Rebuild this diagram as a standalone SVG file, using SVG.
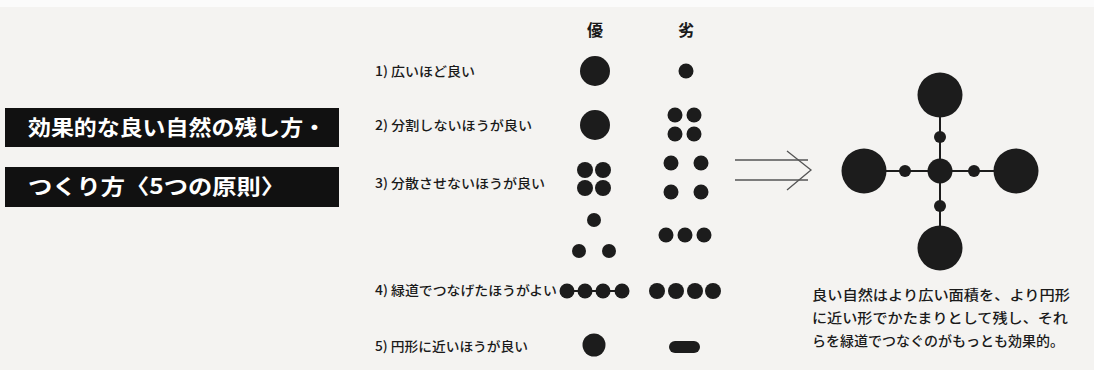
<svg xmlns="http://www.w3.org/2000/svg" width="1094" height="370" viewBox="0 0 1094 370">
<style>
.title{font-family:"Noto Sans CJK JP","Noto Sans",sans-serif;font-size:21px;font-weight:bold;fill:#ffffff}
.lbl{font-family:"Noto Sans CJK JP","Noto Sans",sans-serif;font-size:13px;font-weight:500;fill:#1a1a1a}
.hdr{font-family:"Noto Sans CJK JP",sans-serif;font-size:16px;font-weight:bold;fill:#1a1a1a}
.desc{font-family:"Noto Sans CJK JP","Noto Sans",sans-serif;font-size:13.5px;font-weight:500;fill:#1a1a1a}
.dot{fill:#1c1c1c}
.link{stroke:#1c1c1c;stroke-width:2;fill:none}
.arrow{stroke:#555;stroke-width:1.3;fill:none}
</style>
<rect x="0" y="0" width="1094" height="370" fill="#f4f3f1"/>
<rect x="0" y="0" width="1094" height="7" fill="#fbfbfb"/>
<g id="title1"><rect x="5" y="108" width="334" height="39" fill="#111"/><text class="title" x="28" y="135" textLength="298" lengthAdjust="spacingAndGlyphs">効果的な良い自然の残し方・</text></g>
<g id="title2"><rect x="5" y="167" width="334" height="40" fill="#111"/><text class="title" x="28" y="194" textLength="257" lengthAdjust="spacingAndGlyphs">つくり方〈5つの原則〉</text></g>
<g id="headers"><text class="hdr" x="595" y="36" text-anchor="middle">優</text><text class="hdr" x="686" y="36" text-anchor="middle">劣</text></g>
<g id="labels">
<text class="lbl" x="375" y="76" textLength="100" lengthAdjust="spacingAndGlyphs">1) 広いほど良い</text>
<text class="lbl" x="375" y="130" textLength="157" lengthAdjust="spacingAndGlyphs">2) 分割しないほうが良い</text>
<text class="lbl" x="375" y="188" textLength="170" lengthAdjust="spacingAndGlyphs">3) 分散させないほうが良い</text>
<text class="lbl" x="375" y="295" textLength="182" lengthAdjust="spacingAndGlyphs">4) 緑道でつなげたほうがよい</text>
<text class="lbl" x="375" y="351" textLength="153" lengthAdjust="spacingAndGlyphs">5) 円形に近いほうが良い</text>
</g>
<g id="row1"><circle class="dot" cx="595" cy="71" r="15"/><circle class="dot" cx="686" cy="71" r="7.5"/></g>
<g id="row2"><circle class="dot" cx="595" cy="125" r="15"/>
<circle class="dot" cx="675" cy="115" r="7.5"/><circle class="dot" cx="694" cy="115" r="7.5"/><circle class="dot" cx="675" cy="134" r="7.5"/><circle class="dot" cx="694" cy="134" r="7.5"/></g>
<g id="row3"><circle class="dot" cx="585" cy="170" r="8"/><circle class="dot" cx="603" cy="170" r="8"/><circle class="dot" cx="585" cy="188" r="8"/><circle class="dot" cx="603" cy="188" r="8"/>
<circle class="dot" cx="671" cy="163" r="7.5"/><circle class="dot" cx="701" cy="163" r="7.5"/><circle class="dot" cx="671" cy="192" r="7.5"/><circle class="dot" cx="701" cy="192" r="7.5"/>
<circle class="dot" cx="594" cy="220" r="7"/><circle class="dot" cx="579" cy="251" r="7"/><circle class="dot" cx="609" cy="251" r="7"/>
<circle class="dot" cx="666" cy="235" r="7.5"/><circle class="dot" cx="685" cy="235" r="7.5"/><circle class="dot" cx="704" cy="235" r="7.5"/></g>
<g id="row4"><line class="link" x1="567" y1="291" x2="622" y2="291"/>
<circle class="dot" cx="567" cy="291" r="7.5"/><circle class="dot" cx="585" cy="291" r="7.5"/><circle class="dot" cx="603" cy="291" r="7.5"/><circle class="dot" cx="622" cy="291" r="7.5"/>
<circle class="dot" cx="657" cy="291" r="8"/><circle class="dot" cx="676" cy="291" r="8"/><circle class="dot" cx="695" cy="291" r="8"/><circle class="dot" cx="713" cy="291" r="8"/></g>
<g id="row5"><circle class="dot" cx="594" cy="345" r="11.5"/><rect class="dot" x="669" y="341" width="31" height="12" rx="6"/></g>
<g id="connectors">
<line class="arrow" x1="735" y1="160" x2="808" y2="160"/>
<line class="arrow" x1="735" y1="180" x2="808" y2="180"/>
<polyline class="arrow" points="787,151 811,170 787,190"/>
<line class="link" x1="940" y1="95" x2="940" y2="248"/>
<line class="link" x1="864" y1="171" x2="1016" y2="171"/>
</g>
<g id="cross">
<circle class="dot" cx="940" cy="95" r="22.5"/>
<circle class="dot" cx="864" cy="171" r="22.5"/>
<circle class="dot" cx="1016" cy="171" r="22.5"/>
<circle class="dot" cx="940" cy="248" r="22.5"/>
<circle class="dot" cx="940" cy="171" r="12.5"/>
<circle class="dot" cx="940" cy="137" r="6"/>
<circle class="dot" cx="940" cy="206" r="6"/>
<circle class="dot" cx="905" cy="171" r="6"/>
<circle class="dot" cx="974" cy="171" r="6"/>
</g>
<g id="description">
<text class="desc" x="812" y="300" textLength="258" lengthAdjust="spacingAndGlyphs">良い自然はより広い面積を、より円形</text>
<text class="desc" x="812" y="323" textLength="256" lengthAdjust="spacingAndGlyphs">に近い形でかたまりとして残し、それ</text>
<text class="desc" x="812" y="346" textLength="252" lengthAdjust="spacingAndGlyphs">らを緑道でつなぐのがもっとも効果的。</text>
</g>
</svg>
